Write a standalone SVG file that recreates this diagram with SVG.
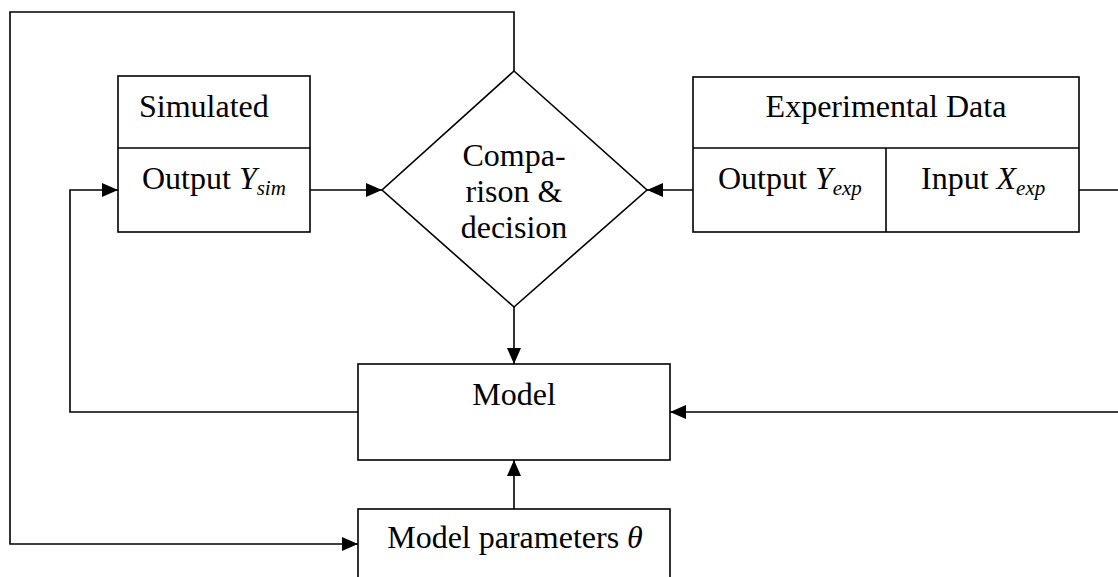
<svg xmlns="http://www.w3.org/2000/svg" width="1118" height="577" viewBox="0 0 1118 577">
<style>
.box{fill:#fff;stroke:#000;stroke-width:1.6}
.ln{fill:none;stroke:#000;stroke-width:1.6}
.t{font-family:"Liberation Serif","Times New Roman",serif;font-size:32px;fill:#000}
.i{font-style:italic}
.sub{font-style:italic;font-size:21px}
</style>
<defs>
<marker id="ah" markerUnits="userSpaceOnUse" markerWidth="16" markerHeight="16" viewBox="0 0 16 16" refX="16" refY="8" orient="auto">
<path d="M0,1 L16,8 L0,15 Z" fill="#000"/>
</marker>
</defs>
<rect width="1118" height="577" fill="#fff"/>
<g id="connectors">
<path class="ln" d="M514,71 V12 H10 V544 H358" marker-end="url(#ah)"/>
<path class="ln" d="M310,190 H382" marker-end="url(#ah)"/>
<path class="ln" d="M693,190 H647" marker-end="url(#ah)"/>
<path class="ln" d="M514,307 V364" marker-end="url(#ah)"/>
<path class="ln" d="M514,509 V460" marker-end="url(#ah)"/>
<path class="ln" d="M358,412 H70 V190 H118" marker-end="url(#ah)"/>
<path class="ln" d="M1079,190 H1130 V412 H670" marker-end="url(#ah)"/>
</g>
<g id="simulated">
<rect class="box" x="118" y="76" width="192" height="156"/>
<line class="ln" x1="118" y1="148" x2="310" y2="148"/>
<text class="t" x="139" y="117">Simulated</text>
<text class="t" x="142" y="189">Output <tspan class="i">Y</tspan><tspan class="sub" dy="6">sim</tspan></text>
</g>
<g id="decision">
<polygon class="box" points="514,71 647,190 514,307 382,190"/>
<text class="t" text-anchor="middle" x="514" y="166">Compa-</text>
<text class="t" text-anchor="middle" x="514" y="202">rison &amp;</text>
<text class="t" text-anchor="middle" x="514" y="238">decision</text>
</g>
<g id="experimental">
<rect class="box" x="693" y="77" width="386" height="155"/>
<line class="ln" x1="693" y1="148" x2="1079" y2="148"/>
<line class="ln" x1="886" y1="148" x2="886" y2="232"/>
<text class="t" text-anchor="middle" x="886" y="117">Experimental Data</text>
<text class="t" x="718" y="189">Output <tspan class="i">Y</tspan><tspan class="sub" dy="6">exp</tspan></text>
<text class="t" x="921" y="189">Input <tspan class="i">X</tspan><tspan class="sub" dy="6">exp</tspan></text>
</g>
<g id="model">
<rect class="box" x="358" y="364" width="312" height="96"/>
<text class="t" text-anchor="middle" x="514" y="405">Model</text>
</g>
<g id="params">
<rect class="box" x="358" y="509" width="312" height="90"/>
<text class="t" text-anchor="middle" x="515" y="548">Model parameters <tspan class="i">θ</tspan></text>
</g>
</svg>
